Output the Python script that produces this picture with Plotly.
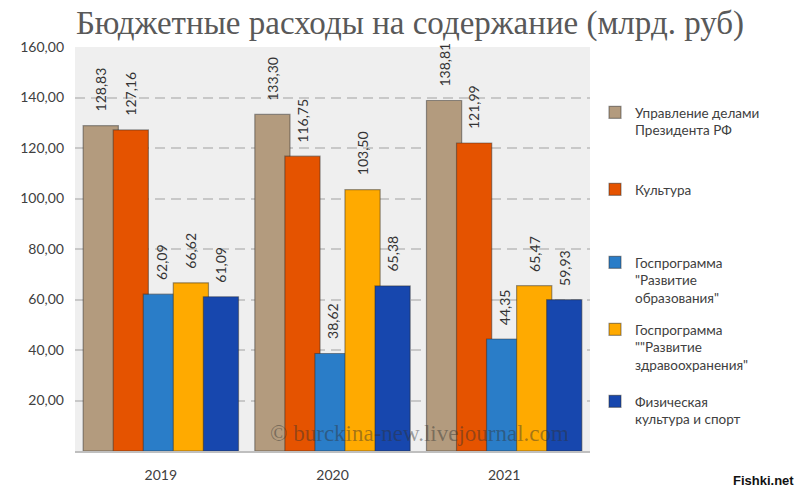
import plotly.graph_objects as go

years = ["2019", "2020", "2021"]
series_names = [
    "Управление делами<br>Президента РФ",
    "Культура",
    "Госпрограмма<br>\"Развитие<br>образования\"",
    "Госпрограмма<br>\"\"Развитие<br>здравоохранения\"",
    "Физическая<br>культура и спорт",
]
upravlenie = [128.83, 133.30, 138.81]
kultura = [127.16, 116.75, 121.99]
obrazovanie = [62.09, 38.62, 44.35]
zdravoohranenie = [66.62, 103.50, 65.47]
sport = [61.09, 65.38, 59.93]
series_values = [upravlenie, kultura, obrazovanie, zdravoohranenie, sport]
colors = ["#B39B7E", "#E55300", "#2A7DC8", "#FFAA00", "#1747AE"]
y_ticks = [20, 40, 60, 80, 100, 120, 140, 160]

def fmt(v):
    return f"{v:.2f}".replace(".", ",")

bar_w = 0.205
step = 0.175
L, R, T, B = 75, 210, 47, 44
plot_w = 800 - L - R
plot_h = 495 - T - B
legend_first_line = [113, 190, 263, 330, 402]

fig = go.Figure()
annotations = []
for k, (name, vals, col) in enumerate(zip(series_names, series_values, colors)):
    center = (k - 2) * step
    lname = "legend" if k == 0 else f"legend{k+1}"
    fig.add_trace(go.Bar(
        x=years, y=vals, name=name,
        marker=dict(color=col, line=dict(color="rgba(40,40,40,0.45)", width=1.2)),
        width=bar_w, offset=center - bar_w / 2,
        legend=lname,
        hoverinfo="skip",
    ))
    for i, v in enumerate(vals):
        annotations.append(dict(
            x=i + center, y=v, xref="x", yref="y",
            text=fmt(v), textangle=-90, showarrow=False,
            xanchor="center", yanchor="bottom", yshift=12,
            font=dict(family="Lato", size=14, color="#333333"),
        ))

annotations.append(dict(
    x=(419 - L) / plot_w, y=(495 - B - 433) / plot_h, xref="paper", yref="paper",
    xanchor="center", yanchor="middle",
    text="© burckina-new.livejournal.com", showarrow=False,
    font=dict(family="Liberation Serif", size=23, color="rgba(50,50,50,0.45)"),
))
annotations.append(dict(
    x=(796 - L) / plot_w, y=-(B - 5) / plot_h, xref="paper", yref="paper",
    xanchor="right", yanchor="bottom",
    text="<b>Fishki.net</b>", showarrow=False,
    font=dict(family="Liberation Sans", size=13, color="#111111"),
))

layout_legends = {}
for k, c in enumerate(legend_first_line):
    lname = "legend" if k == 0 else f"legend{k+1}"
    layout_legends[lname] = dict(
        x=(595 - L) / plot_w, xanchor="left",
        y=(495 - B - (c - 16)) / plot_h, yanchor="top",
        valign="top", bgcolor="rgba(0,0,0,0)",
        font=dict(family="Lato", size=13.5, color="#404040"),
        itemclick=False, itemdoubleclick=False,
    )

fig.update_layout(
    width=800, height=495,
    margin=dict(l=L, r=R, t=T, b=B),
    paper_bgcolor="white", plot_bgcolor="#EFEFEF",
    barmode="overlay",
    showlegend=True,
    title=dict(text="Бюджетные расходы на содержание (млрд. руб)",
               x=410 / 800, xanchor="center", y=1 - 22 / 495, yanchor="middle",
               font=dict(family="Liberation Serif", size=33, color="#595959")),
    annotations=annotations,
    xaxis=dict(type="category", showgrid=False, showline=True, linecolor="#BFBFBF", linewidth=1.5,
               ticks="", tickfont=dict(family="Lato", size=14, color="#404040"),
               ticklabelstandoff=10, range=[-0.5, 2.5]),
    yaxis=dict(range=[0, 160], tickvals=y_ticks, ticktext=[fmt(v) for v in y_ticks],
               showgrid=True, gridcolor="#C8C8C8", griddash="10px,6px", gridwidth=1.5,
               zeroline=False, showline=False, ticks="",
               tickfont=dict(family="Lato", size=14, color="#404040"),
               ticklabelstandoff=10),
    **layout_legends,
)

fig.write_html("out.html")
